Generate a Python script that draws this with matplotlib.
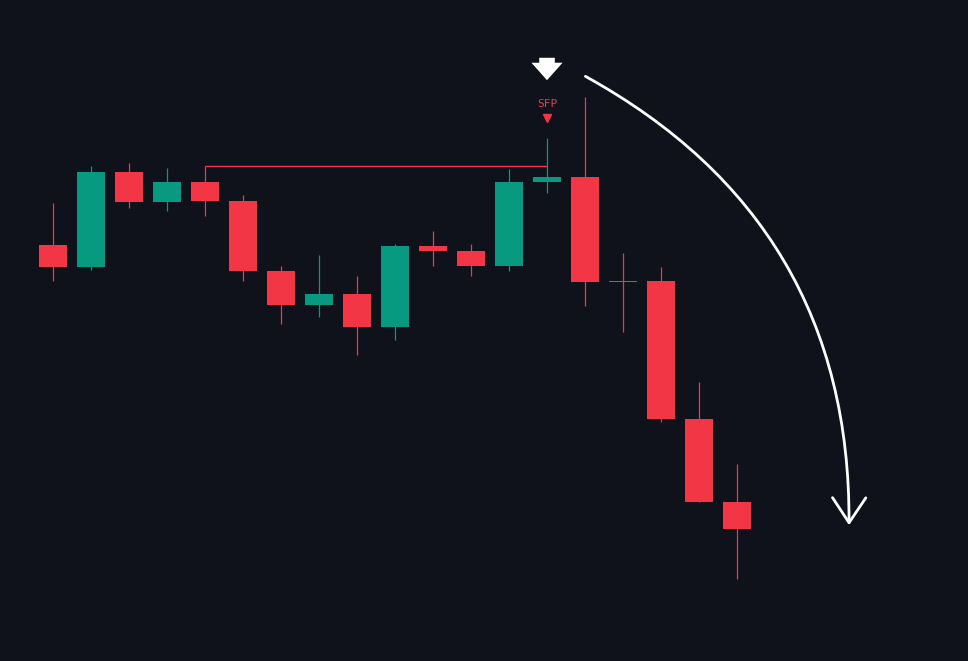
import matplotlib
matplotlib.use("Agg")
import matplotlib.pyplot as plt
from matplotlib.patches import FancyArrowPatch

# prices (arbitrary units, higher = up)
opens  = [416, 394, 489, 459, 479, 460, 390, 356, 367, 334, 415, 410, 395, 479, 484, 380, 380, 242, 159]
closes = [394, 489, 459, 479, 460, 390, 356, 367, 334, 415, 410, 395, 479, 484, 379, 379, 242, 159, 132]
highs  = [458, 495, 498, 493, 495, 466, 395, 406, 385, 417, 430, 417, 492, 523, 564, 408, 394, 279, 197]
lows   = [380, 391, 453, 450, 445, 380, 337, 344, 306, 321, 395, 385, 390, 468, 355, 329, 239, 159, 82]
level_price = 495
level_from, level_to = 4, 13
sfp_index = 13

GREEN, RED, BG = "#089981", "#f23645", "#0f121a"

fig = plt.figure(figsize=(9.68, 6.61), dpi=100, facecolor=BG)
ax = fig.add_axes([0, 0, 1, 1], facecolor=BG)
ax.set_xlim(-53/38, (968-53)/38)
ax.set_ylim(0, 661)
ax.axis("off")

w = 0.76
for i, (o, c, h, l) in enumerate(zip(opens, closes, highs, lows)):
    col = GREEN if c >= o else RED
    ax.vlines(i, l, h, color=col, lw=0.9)
    bh = max(abs(c - o), 1.5)
    ax.add_patch(plt.Rectangle((i - w/2, min(o, c)), w, bh, color=col, lw=0))

ax.hlines(level_price, level_from, level_to, color=RED, lw=1)
ax.vlines(level_from, highs[level_from], level_price, color=RED, lw=1)

ax.text(sfp_index, 557, "SFP", color=RED, fontsize=8, ha="center", va="center", family="DejaVu Sans Mono")
ax.plot([sfp_index], [543], marker="v", color=RED, markersize=6)

# white down arrow icon
ax.add_patch(FancyArrowPatch((sfp_index, 606), (sfp_index, 578), arrowstyle="simple,head_width=1.6,head_length=0.9,tail_width=0.8",
                             mutation_scale=14, color="white", lw=0))

# curved arrow
x0 = (583-53)/38; x1 = (849-53)/38
ax.add_patch(FancyArrowPatch((x0, 586), (x1, 133), connectionstyle="arc3,rad=-0.3",
                             arrowstyle="->,head_width=0.6,head_length=0.9", mutation_scale=20,
                             color="white", lw=2))

fig.savefig("out.png", dpi=100, facecolor=BG)
